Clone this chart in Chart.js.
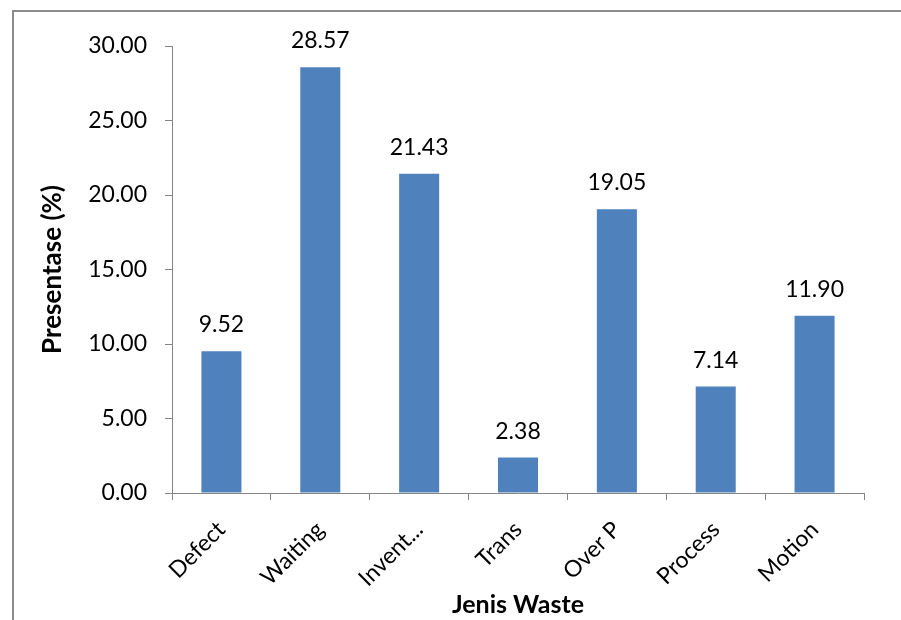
<!DOCTYPE html>
<html>
<head>
<meta charset="utf-8">
<script src="https://cdn.jsdelivr.net/npm/chart.js@4.4.1/dist/chart.umd.min.js"></script>
<style>
html,body{margin:0;padding:0;background:#fff;}
#wrap{width:901px;height:620px;position:relative;}
</style>
</head>
<body>
<div id="wrap"><canvas id="c" width="901" height="620"></canvas></div>
<script>
const categories = ["Defect", "Waiting", "Invent...", "Trans", "Over P", "Process", "Motion"];
const values = [9.52, 28.57, 21.43, 2.38, 19.05, 7.14, 11.90];
const yTicks = [0, 5, 10, 15, 20, 25, 30];
const xTitle = "Jenis Waste";
const yTitle = "Presentase (%)";

const FONT = "Lato, 'Open Sans', sans-serif";

const framePlugin = {
  id: 'frame',
  beforeDraw(chart) {
    const ctx = chart.ctx;
    ctx.save();
    ctx.fillStyle = '#fff';
    ctx.fillRect(0, 0, chart.width, chart.height);
    ctx.strokeStyle = '#8a8a8a';
    ctx.lineWidth = 2;
    ctx.strokeRect(13, 11, 1000, 1000);
    ctx.restore();
  }
};

const labelPlugin = {
  id: 'barLabels',
  afterDatasetsDraw(chart) {
    const ctx = chart.ctx;
    const meta = chart.getDatasetMeta(0);
    ctx.save();
    ctx.font = "23px " + FONT;
    ctx.fillStyle = '#000';
    ctx.textAlign = 'center';
    ctx.textBaseline = 'alphabetic';
    meta.data.forEach((bar, i) => {
      ctx.fillText(values[i].toFixed(2), bar.x, bar.y - 19);
    });
    ctx.restore();
  }
};

new Chart(document.getElementById('c'), {
  type: 'bar',
  data: {
    labels: categories,
    datasets: [{
      data: values,
      backgroundColor: '#4F81BD',
      borderWidth: 0,
      categoryPercentage: 1,
      barPercentage: 0.405
    }]
  },
  options: {
    responsive: false,
    animation: false,
    devicePixelRatio: 1,
    layout: { padding: { left: 0, top: 46, right: 37, bottom: 0 } },
    plugins: { legend: { display: false }, tooltip: { enabled: false } },
    scales: {
      x: {
        grid: { display: true, drawOnChartArea: false, drawTicks: true, tickLength: 7, color: '#868686', offset: true },
        border: { color: '#868686', width: 1 },
        ticks: { color: '#000', font: { family: FONT, size: 23 }, minRotation: 45, maxRotation: 45, padding: 16 },
        title: { display: true, text: xTitle, color: '#000', font: { family: FONT, size: 25, weight: 'bold' }, padding: { top: 4, bottom: 0 } },
        afterFit(scale) { scale.height = 127; }
      },
      y: {
        min: 0, max: 30,
        afterBuildTicks(scale) { scale.ticks = yTicks.map(v => ({ value: v })); },
        grid: { display: true, drawOnChartArea: false, drawTicks: true, tickLength: 7, color: '#868686' },
        border: { color: '#868686', width: 1 },
        ticks: { color: '#000', font: { family: FONT, size: 23 }, padding: 18, callback: v => Number(v).toFixed(2) },
        title: { display: true, text: yTitle, color: '#000', font: { family: FONT, size: 26, weight: 'bold' }, padding: { top: 37, bottom: 0 } },
        afterFit(scale) { scale.width = 172; }
      }
    }
  },
  plugins: [framePlugin, labelPlugin]
});
</script>
</body>
</html>
